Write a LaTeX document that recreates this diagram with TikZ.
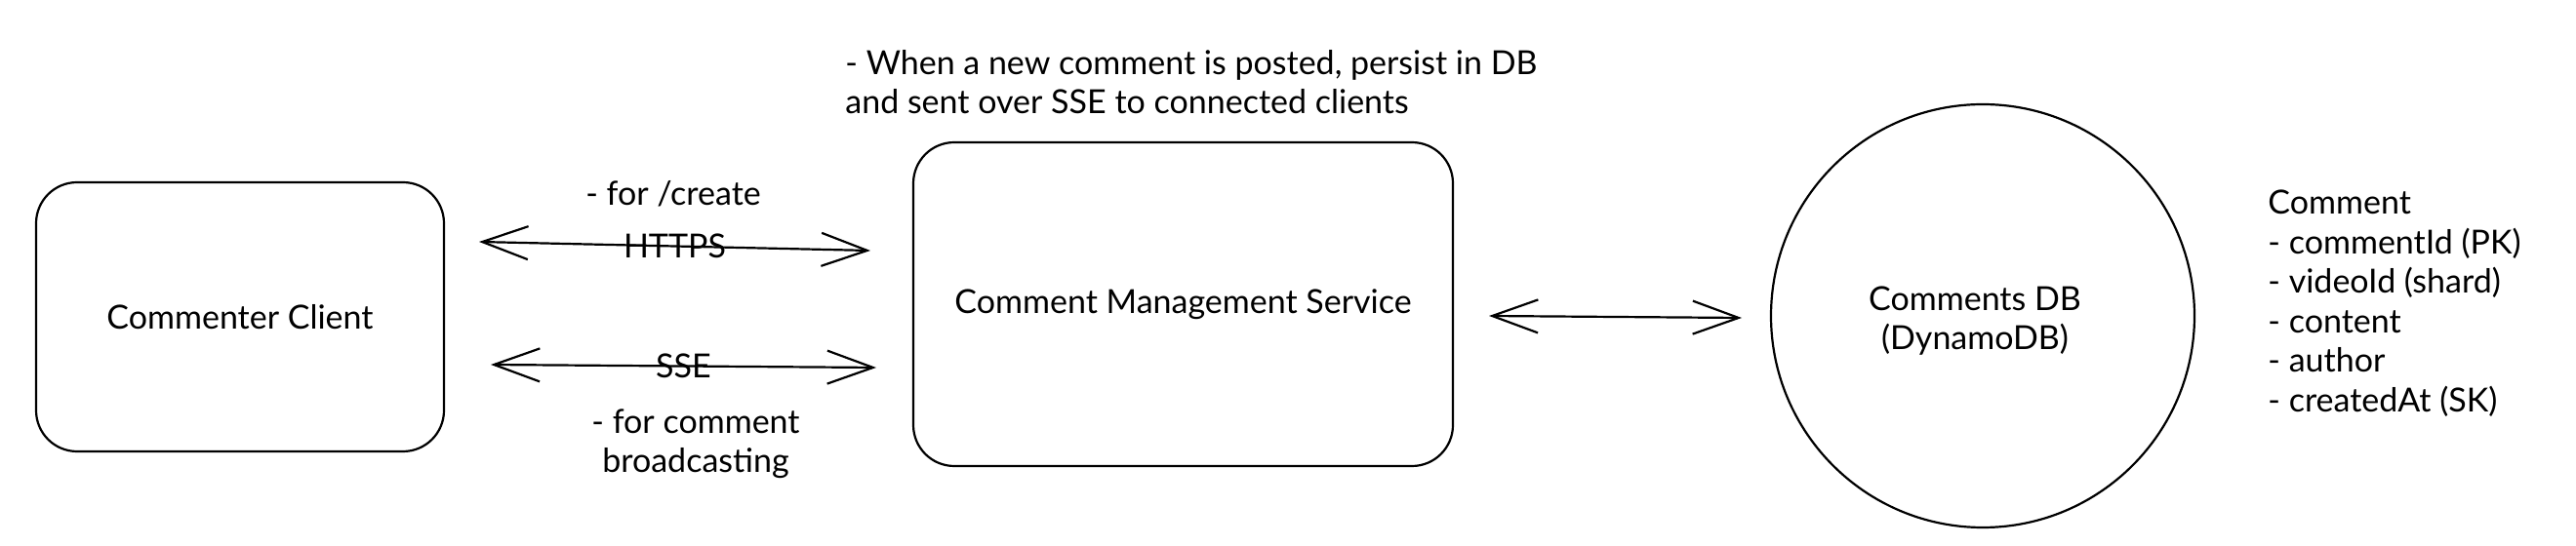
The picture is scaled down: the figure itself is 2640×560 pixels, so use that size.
\documentclass[tikz,border=0pt]{standalone}
\usepackage{fontspec}
\setmainfont{Lato}
\usetikzlibrary{arrows.meta}
\newcommand\dfont{\fontsize{17pt}{20.25pt}\selectfont}
\begin{document}
\begin{tikzpicture}[x=0.5pt,y=-0.5pt,
  every node/.style={font=\dfont, inner sep=0pt},
  box/.style={draw, line width=1.1pt, rounded corners=21pt, align=center},
  dbshape/.style={draw, circle, line width=1.1pt, align=center},
  lbl/.style={align=center},
  note/.style={align=left, anchor=west},
  link/.style={line width=1.1pt, {Straight Barb[length=23.5pt,width=17pt]}-{Straight Barb[length=23.5pt,width=17pt]}}
]
\useasboundingbox (0,0) rectangle (2640,560);
\fill[white] (0,0) rectangle (2640,560);

\node[box, minimum width=209pt, minimum height=138pt] (client) at (246,325) {Commenter Client};
\node[box, minimum width=276.5pt, minimum height=166pt] (cms) at (1212.5,312) {Comment Management Service};
\node[dbshape, minimum size=217pt] (db) at (2032,324) {};
\node[lbl] (dblbl) at (2024,329) {Comments DB\\(DynamoDB)};

\node[note] (cmsnote) at (866,84) {- When a new comment is posted, persist in DB\\and sent over SSE to connected clients};
\node[note] (schema) at (2324,311) {Comment\\- commentId (PK)\\- videoId (shard)\\- content\\- author\\- createdAt (SK)};

\coordinate (h1) at (491,248);
\coordinate (h2) at (892,257);
\coordinate (s1) at (503,374);
\coordinate (s2) at (898,377);
\coordinate (d1) at (1526,324);
\coordinate (d2) at (1785,326);

\draw[link] (h1) -- (h2) node[midway] (https) {HTTPS};
\draw[link] (s1) -- (s2) node[midway] (sse) {SSE};
\draw[link] (d1) -- (d2);

\node[lbl] (createlbl) at (690,199) {- for /create};
\node[lbl] (bcastlbl) at (713,455) {- for comment\\broadcasting};
\end{tikzpicture}
\end{document}
